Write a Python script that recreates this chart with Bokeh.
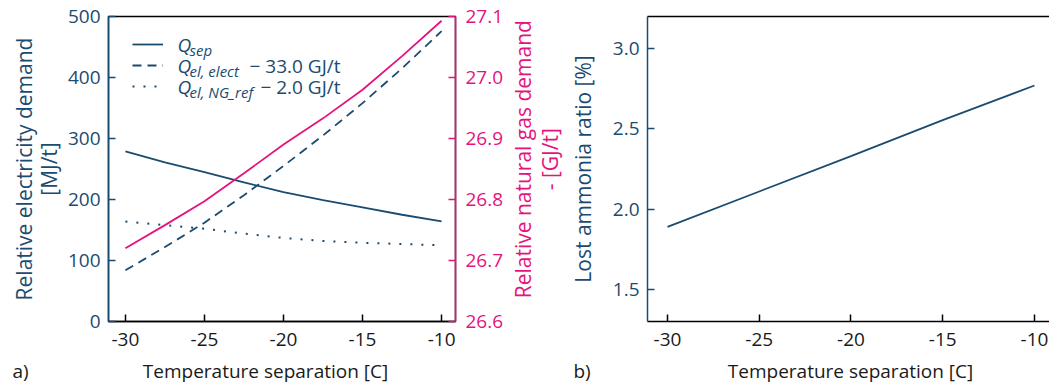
import math
from bokeh.plotting import figure
from bokeh.models import (Range1d, LinearAxis, Label, Legend, LegendItem,
                          FixedTicker, NumeralTickFormatter)
from bokeh.layouts import row, column
from bokeh.embed import file_html
from bokeh.resources import INLINE

# ---------------- data ----------------
temp = [-30, -27.5, -25, -22.5, -20, -17.5, -15, -12.5, -10]
q_sep = [279, 261, 245, 228, 212, 199, 187, 175, 164]
q_el_elect = [84, 122, 162, 207, 255, 305, 358, 415, 476]
q_el_ng_ref = [164, 158, 152, 144, 137, 132, 129, 127, 125]
ng_demand = [26.72, 26.758, 26.797, 26.843, 26.89, 26.933, 26.98, 27.035, 27.093]

temp_b = [-30, -25, -20, -15, -10]
lost_nh3 = [1.89, 2.11, 2.33, 2.555, 2.77]

x_ticks = [-30, -25, -20, -15, -10]
y_ticks_el = [0, 100, 200, 300, 400, 500]
y_ticks_ng = [26.6, 26.7, 26.8, 26.9, 27.0, 27.1]
y_ticks_nh3 = [1.5, 2.0, 2.5, 3.0]

x_title = "Temperature separation [C]"
ng_title = ["Relative natural gas demand", "- [GJ/t]"]
panel_tags = ["a)", "b)"]

BLUE = "#1b4b6f"
PINK = "#e5137d"
DARK = "#1a1a1a"
FONT = "Open Sans"
TICK_FS = "19px"
XLAB_FS = "19px"
YLAB_FS = "21px"

TOP_H = 359


def style_axis(ax, line_color, label_color, lab_fs):
    ax.axis_line_color = line_color
    ax.axis_line_width = 1.5
    ax.major_tick_line_color = line_color
    ax.major_tick_line_width = 1.5
    ax.major_tick_in = 7
    ax.major_tick_out = 0
    ax.minor_tick_line_color = None
    ax.major_label_text_color = label_color
    ax.major_label_text_font = FONT
    ax.major_label_text_font_size = TICK_FS
    ax.axis_label_text_color = label_color
    ax.axis_label_text_font = FONT
    ax.axis_label_text_font_size = lab_fs
    ax.axis_label_text_font_style = "normal"
    ax.axis_label_text_line_height = 0.9


def blank_fig(w, h):
    f = figure(width=w, height=h, x_range=Range1d(0, w), y_range=Range1d(0, h),
               x_axis_type=None, y_axis_type=None, output_backend="svg",
               toolbar_location=None, min_border=0)
    f.grid.visible = False
    f.outline_line_color = None
    f.background_fill_color = "white"
    f.border_fill_color = "white"
    return f


# ---------------- panel a ----------------
p1 = figure(width=506, height=TOP_H, x_range=Range1d(-31.07, -9.12), y_range=Range1d(0, 500),
            output_backend="svg", toolbar_location=None,
            min_border_left=108, min_border_right=49, min_border_top=16, min_border_bottom=38)
p1.extra_y_ranges = {"gas": Range1d(26.6, 27.1)}
p1.grid.visible = False
p1.outline_line_color = "black"
p1.outline_line_width = 1.5
p1.background_fill_color = "white"
p1.border_fill_color = "white"

r_sep = p1.line(temp, q_sep, color=BLUE, line_width=1.8)
r_el = p1.line(temp, q_el_elect, color=BLUE, line_width=1.8, line_dash="9 6")
r_ng = p1.line(temp, q_el_ng_ref, color=BLUE, line_width=2, line_dash="2 9")
p1.line(temp, ng_demand, color=PINK, line_width=1.8, y_range_name="gas")

p1.xaxis.ticker = FixedTicker(ticks=x_ticks)
p1.xaxis.formatter = NumeralTickFormatter(format="0")
p1.xaxis.major_label_standoff = 11
style_axis(p1.xaxis[0], "black", DARK, XLAB_FS)

p1.yaxis.ticker = FixedTicker(ticks=y_ticks_el)
p1.yaxis.axis_label = "Relative electricity demand\n[MJ/t]"
p1.yaxis.major_label_standoff = 8
p1.yaxis.axis_label_standoff = 2
style_axis(p1.yaxis[0], BLUE, BLUE, YLAB_FS)

ax_ng = LinearAxis(y_range_name="gas", ticker=FixedTicker(ticks=y_ticks_ng),
                   formatter=NumeralTickFormatter(format="0.0"))
ax_ng.major_label_standoff = 10
style_axis(ax_ng, PINK, PINK, YLAB_FS)
p1.add_layout(ax_ng, "right")

legend = Legend(items=[LegendItem(label=" ", renderers=[r_sep]),
                       LegendItem(label=" ", renderers=[r_el]),
                       LegendItem(label=" ", renderers=[r_ng])],
                location=(24, 225), glyph_width=31, glyph_height=20, label_height=20,
                spacing=1, padding=0, margin=0, label_standoff=0,
                background_fill_alpha=0, border_line_alpha=0,
                label_text_font_size="6px")
p1.add_layout(legend)

legend_rows = [("sep", ""), ("el, elect", "\u2212 33.0 GJ/t"), ("el, NG_ref", "\u2212 2.0 GJ/t")]
row_y = [277, 256, 235]
for (sub, suf), sy in zip(legend_rows, row_y):
    p1.add_layout(Label(x=69, y=sy, x_units="screen", y_units="screen", text="Q",
                        text_font=FONT, text_font_size="19px", text_font_style="italic",
                        text_color=BLUE, text_baseline="middle"))
    p1.add_layout(Label(x=81, y=sy - 5, x_units="screen", y_units="screen", text=sub,
                        text_font=FONT, text_font_size="15px", text_font_style="italic",
                        text_color=BLUE, text_baseline="middle"))
    if suf:
        p1.add_layout(Label(x=232, y=sy, x_units="screen", y_units="screen", text=suf,
                            text_font=FONT, text_font_size="19px", text_align="right",
                            text_color=BLUE, text_baseline="middle"))

# ---------------- right-axis title strip (reads bottom-to-top) ----------------
pt = blank_fig(58, TOP_H)
pt.text(x=[16, 43], y=[TOP_H - 168, TOP_H - 168], text=ng_title, angle=math.pi / 2,
        text_font={"value": FONT}, text_font_size=YLAB_FS, text_color=PINK,
        text_align="center", text_baseline="middle")

# ---------------- panel b ----------------
p2 = figure(width=485, height=TOP_H, x_range=Range1d(-31.09, -9.18), y_range=Range1d(1.3, 3.2),
            output_backend="svg", toolbar_location=None,
            min_border_left=83, min_border_right=0, min_border_top=16, min_border_bottom=38)
p2.grid.visible = False
p2.outline_line_color = None
p2.background_fill_color = "white"
p2.border_fill_color = "white"

p2.line(temp_b, lost_nh3, color=BLUE, line_width=1.8)

p2.xaxis.ticker = FixedTicker(ticks=x_ticks)
p2.xaxis.formatter = NumeralTickFormatter(format="0")
p2.xaxis.major_label_standoff = 11
style_axis(p2.xaxis[0], "black", DARK, XLAB_FS)

p2.yaxis.ticker = FixedTicker(ticks=y_ticks_nh3)
p2.yaxis.formatter = NumeralTickFormatter(format="0.0")
p2.yaxis.axis_label = "Lost ammonia ratio [%]"
p2.yaxis.major_label_standoff = 8
p2.yaxis.axis_label_standoff = 13
style_axis(p2.yaxis[0], BLUE, BLUE, YLAB_FS)

top_ax = LinearAxis(ticker=FixedTicker(ticks=[]))
top_ax.axis_line_color = "black"
top_ax.axis_line_width = 1.5
top_ax.major_tick_in = 0
top_ax.major_tick_out = 0
top_ax.minor_tick_line_color = None
top_ax.major_label_text_font_size = "0px"
p2.add_layout(top_ax, "above")

# ---------------- bottom strip: x titles and panel tags ----------------
BOT_H = 385 - TOP_H
pb = blank_fig(1049, BOT_H)
ty = BOT_H - (370 - TOP_H)
pb.text(x=[265, 850], y=[ty, ty], text=[x_title, x_title],
        text_font={"value": FONT}, text_font_size=XLAB_FS, text_color=DARK,
        text_align="center", text_baseline="middle")
pb.text(x=[12, 573], y=[ty, ty], text=panel_tags,
        text_font={"value": FONT}, text_font_size=XLAB_FS, text_color=DARK,
        text_align="left", text_baseline="middle")

layout = column(row(p1, pt, p2), pb)
open("out.html", "w").write(file_html(layout, INLINE))
